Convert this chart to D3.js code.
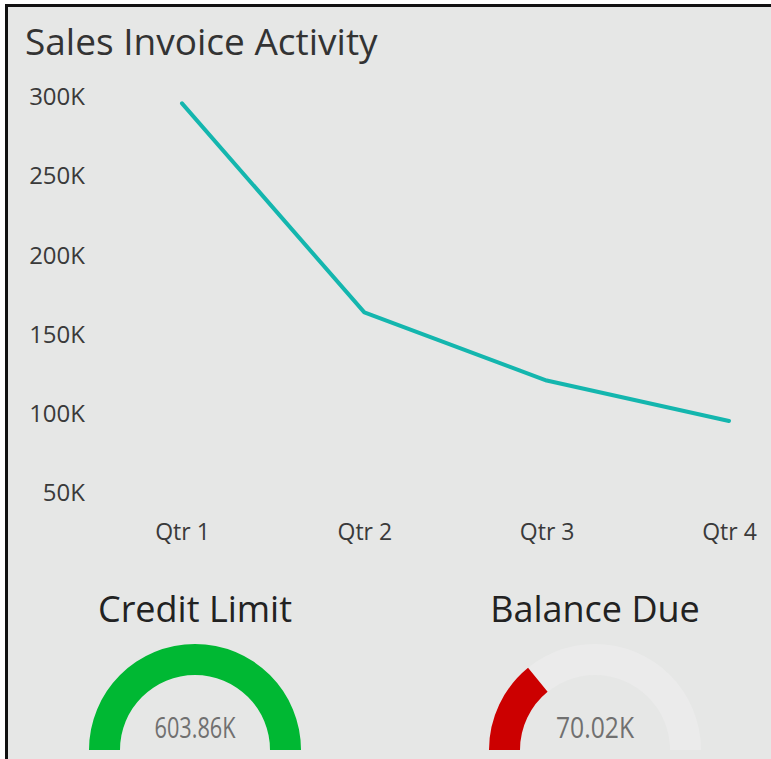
<!DOCTYPE html>
<html>
<head>
<meta charset="utf-8">
<script src="https://cdn.jsdelivr.net/npm/d3@7"></script>
<style>
  body { margin: 0; background: #fff; }
  text { font-family: "Open Sans", "Noto Sans", sans-serif; }
</style>
</head>
<body>
<div id="chart"></div>
<script>
// data
var quarters = ["Qtr 1", "Qtr 2", "Qtr 3", "Qtr 4"];
var invoiceValues = [296000, 164000, 121000, 95500];
var yTicks = [50000, 100000, 150000, 200000, 250000, 300000];

var gaugeTitles = ["Credit Limit", "Balance Due"];
var gaugeValues = [603860, 70020];
var gaugeMax = [603860, 248000];
var gaugeLabels = ["603.86K", "70.02K"];
var gaugeLabelWidths = [81, 78];
var gaugeColors = ["#00b833", "#cc0000"];

var W = 771, H = 759;

var svg = d3.select("#chart")
  .append("svg")
  .attr("width", W)
  .attr("height", H);

// nền và khung
svg.append("rect")
  .attr("x", 7).attr("y", 6)
  .attr("width", W - 7).attr("height", H - 6)
  .attr("fill", "#e6e7e6");
svg.append("line")
  .attr("x1", 6.5).attr("x2", 6.5).attr("y1", 4).attr("y2", H)
  .attr("stroke", "#111").attr("stroke-width", 3);
svg.append("line")
  .attr("x1", 5).attr("x2", W).attr("y1", 5.5).attr("y2", 5.5)
  .attr("stroke", "#111").attr("stroke-width", 3);

// title
svg.append("text")
  .attr("x", 25).attr("y", 55)
  .text("Sales Invoice Activity")
  .attr("font-size", "37px")
  .attr("fill", "#333");

var x = d3.scalePoint()
  .domain(quarters)
  .range([182, 729]);

var y = d3.scaleLinear()
  .domain([50000, 300000])
  .range([493, 97]);

// trục y
var yAxis = svg.append("g")
  .attr("transform", "translate(85,0)")
  .call(d3.axisLeft(y).tickValues(yTicks).tickSize(0).tickPadding(0)
    .tickFormat(function(d) { return (d / 1000) + "K"; }));
yAxis.select(".domain").remove();
yAxis.selectAll("text")
  .attr("font-size", "24px")
  .attr("fill", "#3a3a3a")
  .attr("font-family", "'Open Sans', sans-serif");

// trục x
var xAxis = svg.append("g")
  .attr("transform", "translate(0,524)")
  .call(d3.axisBottom(x).tickSize(0).tickPadding(0));
xAxis.select(".domain").remove();
xAxis.selectAll("text")
  .attr("font-size", "23px")
  .attr("fill", "#3a3a3a")
  .attr("font-family", "'Open Sans', sans-serif");

var line = d3.line()
  .x(function(d, i) { return x(quarters[i]); })
  .y(function(d) { return y(d); });

svg.append("path")
  .datum(invoiceValues)
  .attr("d", line)
  .attr("fill", "none")
  .attr("stroke", "#14b6ae")
  .attr("stroke-width", 4)
  .attr("stroke-linejoin", "round")
  .attr("stroke-linecap", "round");

// gauges
var gaugeX = d3.scalePoint().domain(gaugeTitles).range([195, 595]);
var gaugeCy = 750;
var outerR = 106, innerR = 75;

gaugeTitles.forEach(function(t, i) {
  var cx = gaugeX(t);
  var g = svg.append("g").attr("transform", "translate(" + cx + "," + gaugeCy + ")");

  var angle = d3.scaleLinear().domain([0, gaugeMax[i]]).range([-Math.PI / 2, Math.PI / 2]);
  var arc = d3.arc().innerRadius(innerR).outerRadius(outerR);

  g.append("path")
    .attr("d", arc({ startAngle: -Math.PI / 2, endAngle: Math.PI / 2 }))
    .attr("fill", "#ebebeb");
  g.append("path")
    .attr("d", arc({ startAngle: -Math.PI / 2, endAngle: angle(gaugeValues[i]) }))
    .attr("fill", gaugeColors[i]);

  g.append("text")
    .attr("x", 0).attr("y", -12)
    .attr("text-anchor", "middle")
    .attr("font-size", "29px")
    .attr("textLength", gaugeLabelWidths[i])
    .attr("lengthAdjust", "spacingAndGlyphs")
    .attr("fill", "#707070")
    .text(gaugeLabels[i]);

  svg.append("text")
    .attr("x", cx).attr("y", 622)
    .attr("text-anchor", "middle")
    .attr("font-size", "36px")
    .attr("fill", "#222")
    .text(t);
});
</script>
</body>
</html>
